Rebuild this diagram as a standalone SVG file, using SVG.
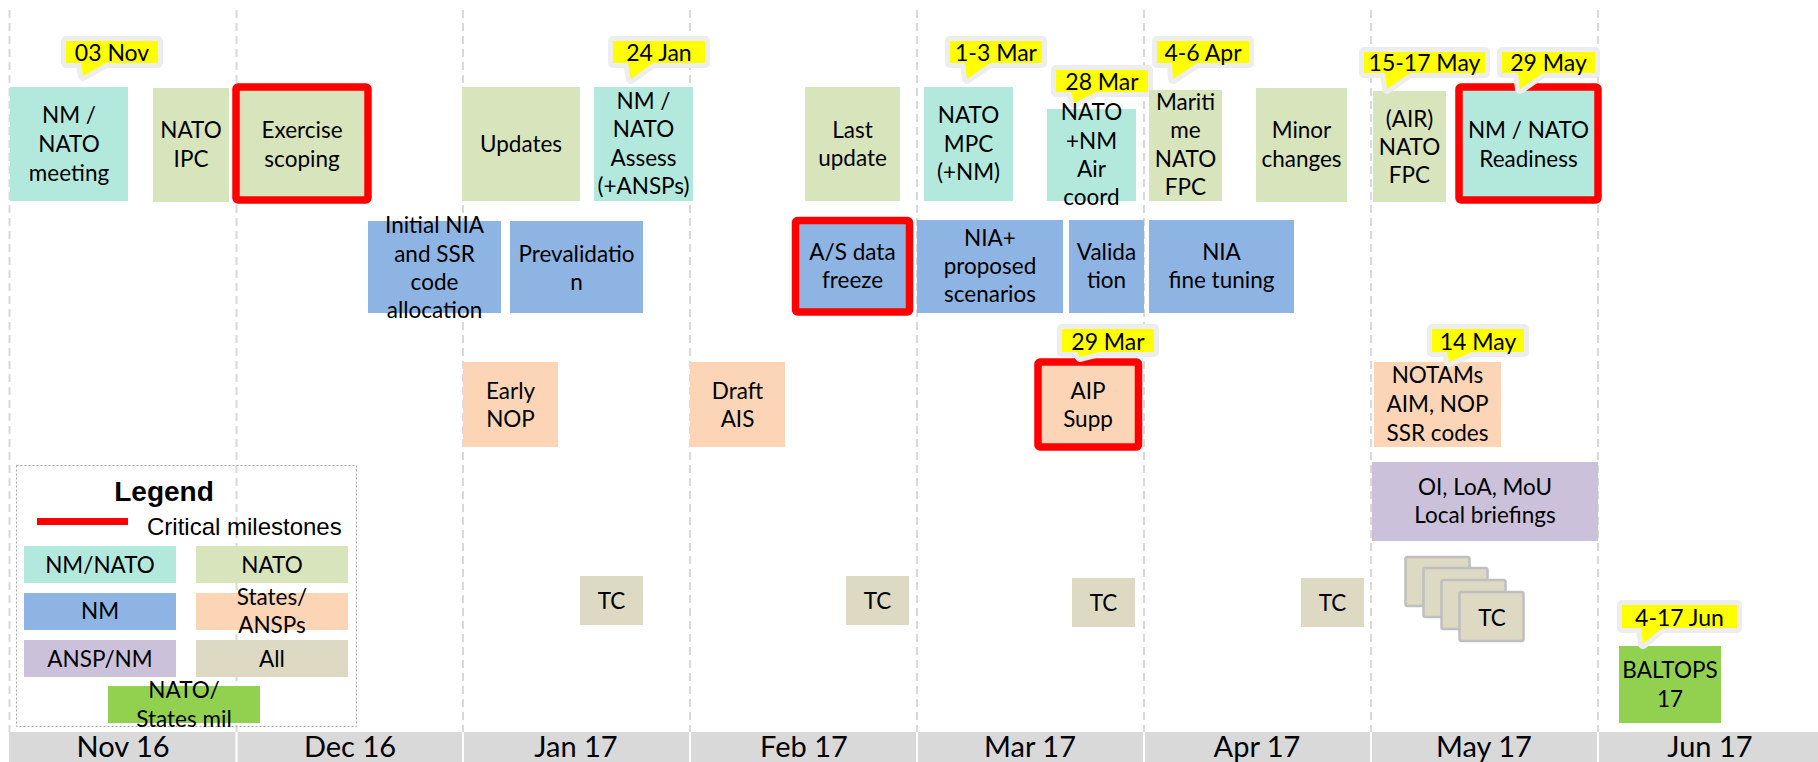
<svg xmlns="http://www.w3.org/2000/svg" width="1818" height="762" viewBox="0 0 1818 762">
<style>
.t{font-family:Lato,"Liberation Sans",sans-serif;font-size:22.5px;fill:#000;text-anchor:middle}
.c{font-family:Lato,"Liberation Sans",sans-serif;font-size:23px;fill:#000;text-anchor:middle}
.m{font-family:Lato,"Liberation Sans",sans-serif;font-size:29px;fill:#000;text-anchor:middle}
.teal{fill:#b3e9dc}.olive{fill:#d8e4bc}.blue{fill:#8eb4e3}.peach{fill:#fbd5b5}.purple{fill:#ccc1da}.tan{fill:#ddd9c3}.green{fill:#92d050}
.crit{stroke:#ff0000;stroke-width:7.5;stroke-linejoin:round}
.div{stroke:#d9d9d9;stroke-width:2;stroke-dasharray:8 5;fill:none}
.halo{fill:#ededed;stroke:#ededed;stroke-width:10;stroke-linejoin:round}
.yel{fill:#ffff00}
.stk{fill:#ddd9c3;stroke:#bfbfbf;stroke-width:2.5}
</style>
<rect width="1818" height="762" fill="#ffffff"/>
<g id="timeline">
<g class="div">
<line x1="9.5" y1="10" x2="9.5" y2="732"/>
<line x1="236.5" y1="10" x2="236.5" y2="732"/>
<line x1="463" y1="10" x2="463" y2="732"/>
<line x1="690" y1="10" x2="690" y2="732"/>
<line x1="917" y1="10" x2="917" y2="732"/>
<line x1="1144" y1="10" x2="1144" y2="732"/>
<line x1="1371" y1="10" x2="1371" y2="732"/>
<line x1="1598" y1="10" x2="1598" y2="732"/>
</g>
<rect x="9" y="732" width="1809" height="30" fill="#d9d9d9"/>
<g stroke="#ffffff" stroke-width="2">
<line x1="236.5" y1="732" x2="236.5" y2="762"/>
<line x1="463" y1="732" x2="463" y2="762"/>
<line x1="690" y1="732" x2="690" y2="762"/>
<line x1="917" y1="732" x2="917" y2="762"/>
<line x1="1144" y1="732" x2="1144" y2="762"/>
<line x1="1371" y1="732" x2="1371" y2="762"/>
<line x1="1598" y1="732" x2="1598" y2="762"/>
</g>
<text class="m" x="123" y="757">Nov 16</text>
<text class="m" x="350" y="757">Dec 16</text>
<text class="m" x="576" y="757">Jan 17</text>
<text class="m" x="804" y="757">Feb 17</text>
<text class="m" x="1030" y="757">Mar 17</text>
<text class="m" x="1257" y="757">Apr 17</text>
<text class="m" x="1484" y="757">May 17</text>
<text class="m" x="1710" y="757">Jun 17</text>
</g>
<g id="connectors"></g>
<g id="legend">
<rect x="16.5" y="465.5" width="340" height="261" fill="none" stroke="#a6a6a6" stroke-width="1" stroke-dasharray="2 2"/>
<text x="164" y="501" font-family="'Liberation Sans',Arial,sans-serif" font-size="28" font-weight="bold" text-anchor="middle">Legend</text>
<rect x="37" y="518" width="91" height="7" fill="#ff0000"/>
<text x="147" y="535" font-family="'Liberation Sans',Arial,sans-serif" font-size="24">Critical milestones</text>
<rect class="teal" x="24" y="546" width="152" height="37"/>
<text class="t" x="100" y="573">NM/NATO</text>
<rect class="olive" x="196" y="546" width="152" height="37"/>
<text class="t" x="272" y="573">NATO</text>
<rect class="blue" x="24" y="593" width="152" height="37"/>
<text class="t" x="100" y="619">NM</text>
<rect class="peach" x="196" y="593" width="152" height="37"/>
<text class="t" x="272" y="605">States/</text>
<text class="t" x="272" y="633">ANSPs</text>
<rect class="purple" x="24" y="640" width="152" height="37"/>
<text class="t" x="100" y="667">ANSP/NM</text>
<rect class="tan" x="196" y="640" width="152" height="37"/>
<text class="t" x="272" y="667">All</text>
<rect class="green" x="108" y="686" width="152" height="37"/>
<text class="t" x="184" y="698">NATO/</text>
<text class="t" x="184" y="727">States mil</text>
</g>
<g id="nm-nato-meeting">
<rect class="teal" x="10" y="87" width="118" height="114"/>
<path class="halo" d="M66,41 H158 V63 H106 L83,76 L81,63 H66 Z"/>
<path class="yel" d="M66,41 H158 V63 H106 L83,76 L81,63 H66 Z"/>
<text class="c" x="112" y="61">03 Nov</text>
<text class="t" x="69" y="123">NM /</text>
<text class="t" x="69" y="152">NATO</text>
<text class="t" x="69" y="181">meeting</text>
</g>
<g id="nato-ipc">
<rect class="olive" x="153" y="88" width="76" height="114"/>
<text class="t" x="191" y="138">NATO</text>
<text class="t" x="191" y="167">IPC</text>
</g>
<g id="exercise-scoping">
<rect class="olive crit" x="236" y="87" width="132" height="113" rx="2"/>
<text class="t" x="302" y="138">Exercise</text>
<text class="t" x="302" y="167">scoping</text>
</g>
<g id="updates">
<rect class="olive" x="462" y="87" width="118" height="114"/>
<text class="t" x="521" y="152">Updates</text>
</g>
<g id="nm-nato-assess">
<rect class="teal" x="594" y="87" width="99" height="114"/>
<path class="halo" d="M613,41 H705 V63 H653 L631,79 L628,63 H613 Z"/>
<path class="yel" d="M613,41 H705 V63 H653 L631,79 L628,63 H613 Z"/>
<text class="c" x="659" y="61">24 Jan</text>
<text class="t" x="643.5" y="109">NM /</text>
<text class="t" x="643.5" y="137">NATO</text>
<text class="t" x="643.5" y="166">Assess</text>
<text class="t" x="643.5" y="194">(+ANSPs)</text>
</g>
<g id="last-update">
<rect class="olive" x="805" y="87" width="95" height="114"/>
<text class="t" x="852.5" y="138">Last</text>
<text class="t" x="852.5" y="166">update</text>
</g>
<g id="nato-mpc">
<rect class="teal" x="924" y="87" width="89" height="114"/>
<path class="halo" d="M950,41 H1042 V63 H990 L967,79 L965,63 H950 Z"/>
<path class="yel" d="M950,41 H1042 V63 H990 L967,79 L965,63 H950 Z"/>
<text class="c" x="996" y="61">1-3 Mar</text>
<text class="t" x="968.5" y="123">NATO</text>
<text class="t" x="968.5" y="152">MPC</text>
<text class="t" x="968.5" y="180">(+NM)</text>
</g>
<g id="nato-nm-air-coord">
<rect class="teal" x="1047" y="109" width="89" height="92"/>
<path class="halo" d="M1056,70 H1148 V92 H1096 L1074,103 L1071,92 H1056 Z"/>
<path class="yel" d="M1056,70 H1148 V92 H1096 L1074,103 L1071,92 H1056 Z"/>
<text class="c" x="1102" y="90">28 Mar</text>
<text class="t" x="1091.5" y="120">NATO</text>
<text class="t" x="1091.5" y="149">+NM</text>
<text class="t" x="1091.5" y="177">Air</text>
<text class="t" x="1091.5" y="205">coord</text>
</g>
<g id="maritime-nato-fpc">
<rect class="olive" x="1149" y="90" width="73" height="111"/>
<path class="halo" d="M1157,41 H1249 V63 H1197 L1173,79 L1172,63 H1157 Z"/>
<path class="yel" d="M1157,41 H1249 V63 H1197 L1173,79 L1172,63 H1157 Z"/>
<text class="c" x="1203" y="61">4-6 Apr</text>
<text class="t" x="1185.5" y="110">Mariti</text>
<text class="t" x="1185.5" y="138">me</text>
<text class="t" x="1185.5" y="167">NATO</text>
<text class="t" x="1185.5" y="195">FPC</text>
</g>
<g id="minor-changes">
<rect class="olive" x="1256" y="88" width="91" height="114"/>
<text class="t" x="1301.5" y="138">Minor</text>
<text class="t" x="1301.5" y="167">changes</text>
</g>
<g id="air-nato-fpc">
<rect class="olive" x="1373" y="91" width="73" height="111"/>
<path class="halo" d="M1364,52 H1485 V73 H1410 L1387,89 L1385,73 H1364 Z"/>
<path class="yel" d="M1364,52 H1485 V73 H1410 L1387,89 L1385,73 H1364 Z"/>
<text class="c" x="1424.5" y="71">15-17 May</text>
<text class="t" x="1409.5" y="127">(AIR)</text>
<text class="t" x="1409.5" y="155">NATO</text>
<text class="t" x="1409.5" y="183">FPC</text>
</g>
<g id="nm-nato-readiness">
<rect class="teal crit" x="1459" y="87" width="139" height="113" rx="2"/>
<path class="halo" d="M1502,52 H1595 V73 H1543 L1520,89 L1518,73 H1502 Z"/>
<path class="yel" d="M1502,52 H1595 V73 H1543 L1520,89 L1518,73 H1502 Z"/>
<text class="c" x="1548.5" y="71">29 May</text>
<text class="t" x="1528.5" y="138">NM / NATO</text>
<text class="t" x="1528.5" y="167">Readiness</text>
</g>
<g id="initial-nia">
<rect class="blue" x="368" y="221" width="133" height="92"/>
<text class="t" x="434.5" y="233">Initial NIA</text>
<text class="t" x="434.5" y="262">and SSR</text>
<text class="t" x="434.5" y="290">code</text>
<text class="t" x="434.5" y="318">allocation</text>
</g>
<g id="prevalidation">
<rect class="blue" x="510" y="221" width="133" height="92"/>
<text class="t" x="576.5" y="262">Prevalidatio</text>
<text class="t" x="576.5" y="290">n</text>
</g>
<g id="as-data-freeze">
<rect class="blue crit" x="795.5" y="220.5" width="114" height="91.5" rx="2"/>
<text class="t" x="852.5" y="260">A/S data</text>
<text class="t" x="852.5" y="288">freeze</text>
</g>
<g id="nia-proposed-scenarios">
<rect class="blue" x="917" y="220" width="146" height="93"/>
<text class="t" x="990" y="246">NIA+</text>
<text class="t" x="990" y="274">proposed</text>
<text class="t" x="990" y="302">scenarios</text>
</g>
<g id="validation">
<rect class="blue" x="1069" y="220" width="75" height="93"/>
<text class="t" x="1106.5" y="260">Valida</text>
<text class="t" x="1106.5" y="288">tion</text>
</g>
<g id="nia-fine-tuning">
<rect class="blue" x="1149" y="220" width="145" height="93"/>
<text class="t" x="1221.5" y="260">NIA</text>
<text class="t" x="1221.5" y="288">fine tuning</text>
</g>
<g id="early-nop">
<rect class="peach" x="463" y="362" width="95" height="85"/>
<text class="t" x="510.5" y="399">Early</text>
<text class="t" x="510.5" y="427">NOP</text>
</g>
<g id="draft-ais">
<rect class="peach" x="690" y="362" width="95" height="85"/>
<text class="t" x="737.5" y="399">Draft</text>
<text class="t" x="737.5" y="427">AIS</text>
</g>
<g id="aip-supp">
<rect class="peach crit" x="1038" y="362" width="100.5" height="85" rx="2"/>
<path class="halo" d="M1062,329 H1154 V352 H1100 L1080,357 L1077,352 H1062 Z"/>
<path class="yel" d="M1062,329 H1154 V352 H1100 L1080,357 L1077,352 H1062 Z"/>
<text class="c" x="1108" y="350">29 Mar</text>
<text class="t" x="1088" y="399">AIP</text>
<text class="t" x="1088" y="427">Supp</text>
</g>
<g id="notams">
<rect class="peach" x="1374" y="362" width="127" height="85"/>
<path class="halo" d="M1432,329 H1524 V352 H1472 L1449,362 L1447,352 H1432 Z"/>
<path class="yel" d="M1432,329 H1524 V352 H1472 L1449,362 L1447,352 H1432 Z"/>
<text class="c" x="1478" y="350">14 May</text>
<text class="t" x="1437.5" y="383">NOTAMs</text>
<text class="t" x="1437.5" y="412">AIM, NOP</text>
<text class="t" x="1437.5" y="441">SSR codes</text>
</g>
<g id="oi-loa-mou">
<rect class="purple" x="1372" y="462" width="226" height="79"/>
<text class="t" x="1485" y="495">OI, LoA, MoU</text>
<text class="t" x="1485" y="523">Local briefings</text>
</g>
<g id="tc-jan">
<rect class="tan" x="580" y="576" width="63" height="49"/>
<text class="t" x="611.5" y="609">TC</text>
</g>
<g id="tc-feb">
<rect class="tan" x="846" y="576" width="63" height="49"/>
<text class="t" x="877.5" y="609">TC</text>
</g>
<g id="tc-mar">
<rect class="tan" x="1072" y="578" width="63" height="49"/>
<text class="t" x="1103.5" y="611">TC</text>
</g>
<g id="tc-apr">
<rect class="tan" x="1301" y="578" width="63" height="49"/>
<text class="t" x="1332.5" y="611">TC</text>
</g>
<g id="tc-stack">
<rect class="stk" x="1405.5" y="557" width="64" height="49" rx="2"/>
<rect class="stk" x="1423.5" y="568" width="64" height="49" rx="2"/>
<rect class="stk" x="1441.5" y="580" width="64" height="49" rx="2"/>
<rect class="stk" x="1459.5" y="592" width="64" height="49" rx="2"/>
<text class="t" x="1492" y="626">TC</text>
</g>
<g id="baltops">
<rect class="green" x="1619" y="646" width="102" height="77"/>
<path class="halo" d="M1622,605 H1737 V628 H1662 L1643,644 L1641,628 H1622 Z"/>
<path class="yel" d="M1622,605 H1737 V628 H1662 L1643,644 L1641,628 H1622 Z"/>
<text class="c" x="1679.5" y="626">4-17 Jun</text>
<text class="t" x="1670" y="678">BALTOPS</text>
<text class="t" x="1670" y="707">17</text>
</g>
</svg>
